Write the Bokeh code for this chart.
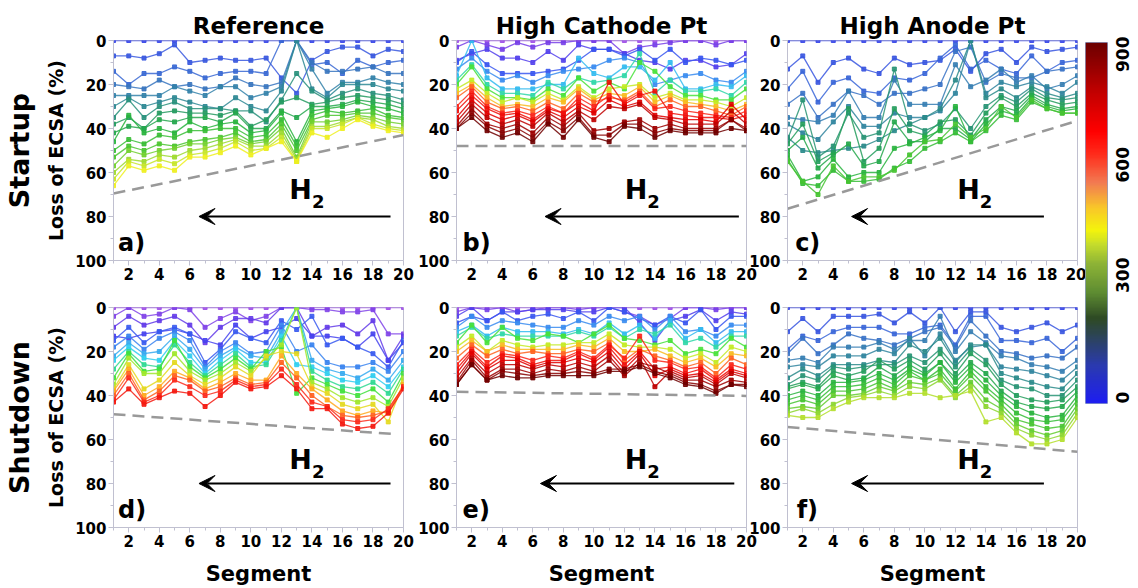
import math
import numpy as np
from bokeh.plotting import figure
from bokeh.layouts import row, column
from bokeh.models import (Range1d, LinearAxis, FixedTicker, Label, Arrow,
                          VeeHead, LinearColorMapper)
from bokeh.embed import file_html
from bokeh.resources import INLINE

FONT = "DejaVu Sans"
AXIS_GREY = "#c0c0d0"

# ---------------------------------------------------------------- data
segments = list(range(1, 21))
x_major = [2, 4, 6, 8, 10, 12, 14, 16, 18, 20]
x_minor = [1, 3, 5, 7, 9, 11, 13, 15, 17, 19]
y_major = [0, 20, 40, 60, 80, 100]
y_minor = [10, 30, 50, 70, 90]
cbar_ticks = [0, 300, 600, 900]

# loss of ECSA (%) per segment, one row per measured cycle (early -> late)
ref_startup = [
    [0, 0, 0, 0, 0, 0, 0, 0, 0, 0, 0, 0, 0, 0, 0, 0, 0, 0, 0, 0],
    [7, 7, 8, 6, 2, 10, 9, 8, 9, 9, 8, 17, 24, 9, 5, 3, 3, 7, 4, 5],
    [14, 20, 15, 15, 12, 14, 17, 15, 14, 14, 15, 0, 0, 11, 10, 15, 9, 12, 10, 9],
    [20, 21, 22, 18, 21, 20, 22, 21, 17, 20, 21, 19, 0, 10, 14, 14, 13, 12, 15, 15],
    [25, 25, 25, 25, 21, 23, 25, 21, 21, 26, 24, 21, 0, 13, 24, 19, 19, 17, 19, 20],
    [30, 26, 30, 28, 26, 28, 30, 31, 26, 30, 32, 23, 0, 22, 26, 20, 20, 20, 22, 23],
    [35, 27, 35, 30, 28, 31, 31, 31, 32, 32, 37, 27, 15, 23, 27, 24, 22, 24, 25, 27],
    [38, 35, 40, 33, 32, 33, 33, 34, 32, 39, 36, 28, 26, 29, 28, 26, 25, 26, 27, 29],
    [42, 39, 40, 36, 37, 35, 35, 37, 33, 40, 40, 32, 35, 30, 30, 29, 27, 28, 29, 31],
    [46, 34, 42, 40, 42, 37, 40, 38, 37, 42, 41, 33, 46, 32, 31, 30, 28, 30, 31, 33],
    [50, 45, 47, 43, 44, 41, 41, 40, 40, 44, 43, 36, 48, 34, 32, 33, 32, 31, 34, 35],
    [53, 48, 50, 47, 48, 46, 45, 44, 42, 46, 45, 38, 50, 36, 34, 34, 33, 33, 35, 36],
    [57, 50, 52, 50, 49, 47, 47, 45, 44, 47, 46, 40, 53, 37, 37, 36, 34, 35, 37, 38],
    [60, 54, 55, 52, 53, 50, 49, 47, 45, 48, 48, 42, 54, 39, 39, 37, 35, 36, 39, 40],
    [63, 55, 57, 54, 56, 52, 51, 49, 46, 50, 49, 44, 55, 40, 40, 38, 35, 38, 40, 41],
    [66, 57, 59, 57, 59, 53, 53, 51, 48, 52, 49, 46, 55, 42, 44, 40, 36, 39, 41, 42],
]

cathode_startup = [
    [0, 0, 0, 0, 0, 0, 0, 0, 0, 0, 0, 0, 0, 0, 0, 0, 0, 0, 0, 0],
    [3, 0, 2, 4, 1, 3, 1, 1, 0, 0, 0, 6, 3, 2, 1, 0, 0, 2, 0, 0],
    [9, 6, 4, 8, 8, 10, 5, 9, 2, 4, 4, 6, 9, 10, 13, 9, 9, 12, 11, 6],
    [10, 5, 11, 15, 15, 15, 14, 13, 9, 4, 4, 7, 4, 9, 4, 10, 8, 9, 11, 9],
    [13, 8, 14, 18, 16, 19, 16, 14, 13, 12, 9, 8, 10, 20, 18, 16, 15, 18, 19, 14],
    [16, 0, 17, 22, 22, 22, 20, 20, 8, 15, 17, 12, 12, 18, 10, 22, 22, 20, 21, 16],
    [18, 11, 20, 24, 24, 25, 19, 22, 17, 19, 18, 16, 6, 24, 18, 23, 23, 22, 25, 19],
    [20, 12, 22, 26, 26, 27, 22, 25, 17, 23, 19, 22, 10, 14, 21, 25, 25, 27, 27, 22],
    [22, 18, 24, 28, 26, 28, 24, 27, 21, 26, 22, 21, 20, 26, 24, 27, 27, 28, 30, 26],
    [24, 20, 26, 30, 29, 30, 26, 28, 22, 27, 24, 25, 21, 28, 25, 28, 29, 30, 32, 29],
    [26, 21, 28, 31, 30, 32, 28, 31, 24, 28, 26, 27, 23, 30, 27, 30, 30, 32, 34, 30],
    [30, 23, 30, 33, 32, 34, 30, 33, 26, 30, 25, 28, 24, 31, 30, 32, 33, 34, 35, 32],
    [32, 25, 31, 34, 33, 36, 31, 33, 28, 32, 19, 29, 25, 23, 33, 34, 35, 35, 36, 34],
    [35, 27, 33, 36, 34, 37, 32, 35, 30, 33, 27, 30, 28, 34, 35, 36, 36, 37, 29, 36],
    [37, 29, 35, 38, 36, 39, 33, 37, 32, 36, 30, 31, 29, 35, 36, 38, 38, 38, 32, 38],
    [39, 31, 38, 40, 38, 42, 35, 39, 33, 41, 40, 37, 36, 40, 38, 40, 40, 40, 36, 40],
    [40, 33, 39, 42, 40, 44, 37, 41, 35, 43, 43, 38, 38, 42, 40, 41, 41, 41, 36, 41],
    [40, 35, 41, 44, 42, 46, 38, 44, 36, 44, 46, 39, 40, 44, 41, 42, 42, 42, 40, 41],
]

anode_startup = [
    [0, 0, 0, 0, 0, 0, 0, 0, 0, 0, 0, 0, 0, 0, 0, 0, 0, 0, 0, 0],
    [13, 7, 19, 10, 8, 13, 15, 8, 11, 10, 9, 4, 14, 6, 4, 10, 3, 5, 4, 3],
    [22, 14, 28, 19, 17, 23, 24, 17, 18, 15, 8, 2, 13, 9, 13, 15, 7, 14, 10, 9],
    [29, 24, 35, 29, 23, 25, 29, 24, 24, 22, 20, 5, 3, 19, 15, 17, 17, 14, 13, 12],
    [35, 36, 37, 34, 23, 35, 35, 18, 29, 29, 29, 11, 21, 18, 13, 19, 16, 22, 20, 16],
    [38, 42, 45, 37, 30, 39, 39, 33, 35, 35, 32, 24, 0, 24, 19, 21, 19, 21, 24, 19],
    [44, 50, 51, 50, 49, 48, 45, 41, 38, 35, 31, 18, 0, 26, 22, 26, 21, 24, 26, 24],
    [45, 27, 53, 48, 33, 44, 42, 13, 38, 41, 38, 31, 40, 30, 25, 28, 22, 26, 27, 26],
    [47, 38, 55, 51, 31, 55, 49, 31, 41, 43, 37, 36, 43, 33, 26, 30, 24, 27, 29, 28],
    [50, 44, 58, 52, 47, 57, 55, 37, 46, 46, 40, 40, 45, 36, 30, 32, 25, 29, 31, 30],
    [52, 64, 62, 54, 62, 60, 60, 49, 47, 44, 41, 30, 46, 38, 32, 34, 26, 30, 32, 31],
    [54, 65, 66, 59, 64, 64, 63, 58, 55, 49, 46, 42, 46, 41, 34, 36, 28, 31, 33, 33],
    [55, 64, 70, 57, 64, 62, 62, 59, 52, 46, 45, 38, 44, 40, 30, 35, 27, 31, 33, 33],
]

ref_shutdown = [
    [0, 0, 0, 0, 0, 0, 0, 0, 0, 0, 0, 0, 0, 0, 0, 0, 0, 0, 0, 0],
    [4, 0, 4, 3, 0, 1, 9, 5, 2, 6, 4, 0, 0, 1, 1, 2, 2, 1, 12, 12],
    [9, 4, 8, 6, 4, 8, 16, 9, 5, 5, 7, 0, 0, 13, 9, 8, 12, 6, 24, 13],
    [13, 14, 12, 11, 10, 12, 15, 17, 8, 14, 11, 9, 5, 13, 13, 14, 18, 12, 24, 16],
    [15, 9, 16, 11, 9, 12, 25, 19, 11, 14, 16, 6, 10, 4, 17, 14, 18, 21, 27, 15],
    [18, 13, 19, 14, 11, 15, 27, 20, 16, 21, 20, 8, 20, 17, 25, 27, 27, 25, 29, 20],
    [22, 16, 21, 20, 13, 19, 28, 22, 18, 22, 23, 11, 0, 24, 28, 30, 32, 28, 33, 24],
    [24, 18, 23, 24, 15, 22, 30, 24, 19, 25, 25, 13, 26, 27, 30, 33, 34, 31, 36, 27],
    [28, 20, 26, 27, 17, 25, 31, 26, 21, 27, 26, 15, 0, 29, 33, 36, 37, 34, 39, 28],
    [32, 21, 29, 28, 15, 27, 32, 28, 23, 28, 20, 18, 39, 32, 35, 38, 40, 37, 43, 30],
    [35, 23, 30, 30, 21, 29, 33, 30, 25, 29, 23, 17, 0, 34, 37, 41, 43, 41, 45, 32],
    [37, 26, 37, 33, 25, 31, 35, 32, 27, 31, 22, 20, 21, 36, 39, 44, 46, 44, 52, 34],
    [38, 28, 40, 36, 29, 32, 37, 34, 30, 33, 33, 22, 30, 37, 42, 47, 49, 47, 48, 35],
    [40, 30, 42, 38, 31, 33, 38, 36, 32, 35, 34, 25, 32, 40, 45, 49, 50, 49, 47, 36],
    [42, 32, 43, 40, 33, 36, 40, 38, 33, 36, 35, 28, 35, 43, 45, 51, 52, 51, 46, 36],
    [43, 37, 44, 41, 38, 39, 45, 40, 34, 37, 36, 31, 37, 46, 46, 53, 55, 54, 48, 37],
]

cathode_shutdown = [
    [0, 0, 0, 0, 0, 0, 0, 0, 0, 0, 0, 0, 0, 0, 0, 0, 0, 0, 0, 0],
    [2, 0, 1, 0, 2, 1, 0, 0, 1, 0, 0, 2, 4, 8, 5, 0, 0, 1, 0, 0],
    [4, 0, 6, 2, 2, 1, 1, 1, 2, 2, 0, 0, 7, 15, 6, 4, 1, 6, 2, 3],
    [7, 4, 6, 2, 6, 4, 3, 5, 2, 6, 0, 2, 5, 8, 4, 7, 1, 10, 4, 4],
    [9, 4, 9, 6, 7, 8, 9, 9, 6, 8, 4, 6, 4, 10, 4, 11, 10, 13, 8, 8],
    [11, 8, 13, 9, 11, 11, 11, 12, 10, 12, 7, 12, 8, 14, 6, 14, 10, 16, 11, 11],
    [13, 9, 14, 12, 13, 13, 13, 13, 11, 13, 9, 14, 10, 12, 8, 16, 14, 18, 13, 13],
    [16, 8, 16, 9, 14, 15, 12, 13, 16, 12, 8, 14, 15, 17, 15, 21, 19, 21, 14, 18],
    [18, 13, 20, 15, 17, 18, 17, 17, 16, 16, 12, 17, 18, 18, 19, 23, 21, 25, 18, 20],
    [20, 15, 20, 17, 19, 19, 19, 19, 17, 18, 14, 20, 20, 19, 22, 25, 23, 27, 21, 22],
    [23, 17, 22, 19, 21, 20, 21, 21, 19, 20, 16, 24, 19, 22, 24, 27, 25, 30, 23, 26],
    [26, 19, 25, 21, 22, 24, 22, 23, 20, 23, 17, 23, 13, 24, 25, 28, 27, 32, 26, 28],
    [28, 20, 27, 22, 23, 26, 24, 24, 21, 24, 18, 26, 20, 28, 27, 30, 28, 33, 28, 30],
    [30, 21, 28, 24, 24, 27, 25, 25, 23, 25, 20, 28, 21, 31, 28, 31, 30, 34, 29, 31],
    [32, 23, 30, 26, 26, 28, 26, 27, 25, 27, 22, 30, 23, 36, 29, 32, 31, 35, 30, 32],
    [34, 24, 32, 28, 28, 30, 28, 29, 27, 29, 24, 31, 25, 27, 30, 33, 33, 36, 33, 34],
    [35, 26, 33, 29, 30, 31, 30, 30, 29, 30, 28, 28, 26, 29, 31, 34, 35, 38, 35, 35],
    [35, 26, 33, 31, 32, 32, 31, 31, 31, 31, 29, 29, 27, 30, 32, 35, 36, 39, 35, 36],
]

anode_shutdown = [
    [0, 0, 0, 0, 0, 0, 0, 0, 0, 0, 0, 0, 0, 0, 0, 0, 0, 0, 0, 0],
    [11, 5, 11, 4, 4, 4, 3, 7, 2, 7, 0, 11, 2, 2, 9, 11, 9, 7, 11, 8],
    [19, 13, 15, 11, 9, 9, 9, 12, 12, 9, 8, 17, 4, 4, 15, 15, 16, 14, 20, 14],
    [21, 14, 21, 17, 12, 14, 15, 17, 14, 11, 9, 18, 6, 13, 20, 21, 23, 22, 23, 18],
    [24, 23, 25, 18, 18, 18, 16, 19, 15, 15, 4, 20, 11, 16, 22, 23, 26, 27, 29, 24],
    [27, 26, 27, 22, 22, 22, 19, 21, 14, 22, 12, 24, 18, 17, 27, 28, 29, 31, 33, 27],
    [32, 28, 31, 26, 26, 26, 24, 25, 17, 20, 14, 25, 17, 17, 30, 32, 34, 36, 37, 30],
    [35, 31, 33, 27, 28, 27, 26, 26, 22, 25, 19, 27, 19, 24, 33, 36, 37, 40, 40, 33],
    [36, 34, 36, 29, 31, 29, 24, 28, 24, 28, 21, 30, 21, 26, 35, 40, 42, 43, 42, 36],
    [37, 35, 37, 31, 33, 32, 27, 31, 26, 30, 25, 32, 25, 30, 38, 43, 45, 46, 45, 38],
    [40, 38, 40, 34, 34, 33, 30, 33, 28, 31, 25, 34, 27, 33, 40, 45, 48, 50, 49, 40],
    [42, 40, 42, 36, 36, 35, 32, 35, 29, 33, 28, 37, 29, 36, 42, 48, 51, 52, 51, 42],
    [44, 42, 44, 38, 38, 37, 34, 37, 31, 33, 30, 38, 31, 38, 44, 51, 53, 55, 54, 44],
    [46, 45, 46, 40, 40, 39, 36, 38, 34, 35, 32, 40, 34, 42, 46, 53, 56, 58, 56, 46],
    [48, 46, 48, 44, 41, 40, 38, 40, 36, 37, 33, 41, 36, 45, 48, 55, 58, 60, 58, 48],
    [49, 50, 50, 46, 43, 41, 41, 41, 39, 39, 41, 40, 38, 52, 50, 57, 62, 62, 60, 50],
]

# dashed guide lines (segment, loss) at the two ends
guide_a = ([1, 20], [69.5, 43])
guide_b = ([1, 20], [48, 48])
guide_c = ([1, 20], [76.5, 36.5])
guide_d = ([1, 19.5], [48.5, 57.6])
guide_e = ([1, 20], [38.3, 40.2])
guide_f = ([1, 20], [54.3, 65.6])

# ---------------------------------------------------------------- colours
BGY = [(0.0, "#3a48e8"), (0.12, "#3a66d8"), (0.25, "#3680b0"), (0.37, "#2a8c88"),
       (0.5, "#24a055"), (0.62, "#2ab83a"), (0.75, "#50c830"), (0.88, "#a8dc30"),
       (1.0, "#eef020")]
RAINBOW = [(0.0, "#a050e8"), (0.08, "#6a3ae8"), (0.16, "#3a48f0"), (0.24, "#3a90f0"),
           (0.32, "#30d0f0"), (0.40, "#30e040"), (0.48, "#d8ec20"), (0.54, "#ffb020"),
           (0.62, "#ff3020"), (0.75, "#e80000"), (0.88, "#a00000"), (1.0, "#700000")]
CBAR = [(0, "#1e1ef0"), (100, "#2a3ab0"), (180, "#2c4458"), (230, "#2e4a24"),
        (300, "#5e8c32"), (380, "#8eb436"), (430, "#c4dc2c"), (470, "#f4f40c"),
        (530, "#f8c828"), (600, "#f27a52"), (680, "#ff2a1a"), (740, "#ff0000"),
        (850, "#c00000"), (980, "#6e0000")]


def _rgb(h):
    return tuple(int(h[i:i + 2], 16) for i in (1, 3, 5))


def blend(anchors, t):
    t = min(max(t, anchors[0][0]), anchors[-1][0])
    for (p0, c0), (p1, c1) in zip(anchors, anchors[1:]):
        if t <= p1:
            f = 0 if p1 == p0 else (t - p0) / (p1 - p0)
            a, b = _rgb(c0), _rgb(c1)
            return "#%02x%02x%02x" % tuple(round(a[k] + (b[k] - a[k]) * f) for k in range(3))
    return anchors[-1][1]


# ---------------------------------------------------------------- panels
def style_axis(ax):
    ax.axis_line_color = AXIS_GREY
    ax.major_tick_line_color = AXIS_GREY
    ax.minor_tick_line_color = AXIS_GREY
    ax.major_tick_in = 0
    ax.major_tick_out = 5
    ax.minor_tick_in = 0
    ax.minor_tick_out = 3
    ax.major_label_text_font = FONT
    ax.major_label_text_font_style = "bold"
    ax.major_label_text_color = "black"
    ax.major_label_standoff = 2
    ax.major_label_text_font_size = "15px"
    ax.axis_label_text_font = FONT
    ax.axis_label_text_font_style = "bold"
    ax.axis_label_text_color = "black"


def text_label(x, y, text, size, align):
    return Label(x=x, y=y, text=text, text_align=align, text_baseline="middle",
                 text_font=FONT, text_font_style="bold", text_font_size=size,
                 text_color="black")


def panel(series, anchors, top_frac, letter, letter_x, guide, arrow_x, h_x,
          top, width, left, right, shift, title=None, row_label=None):
    height = 284 if top else 304
    p = figure(width=width, height=height, x_range=Range1d(1, 20),
               y_range=Range1d(100, 0), toolbar_location=None,
               output_backend="svg", title=title,
               min_border_left=left, min_border_right=right,
               min_border_top=40 if top else 23,
               min_border_bottom=24 if top else 61,
               border_fill_color=None, background_fill_color=None,
               outline_line_color=AXIS_GREY, margin=(0, 0, 0, shift))
    p.grid.visible = False
    xax = p.xaxis[0]
    yax = p.yaxis[0]
    xax.ticker = FixedTicker(ticks=x_major, minor_ticks=x_minor)
    yax.ticker = FixedTicker(ticks=y_major, minor_ticks=y_minor)
    style_axis(xax)
    style_axis(yax)

    if title:
        p.title.align = "center"
        p.title.text_font = FONT
        p.title.text_font_style = "bold"
        p.title.text_font_size = "23px"
        p.title.text_color = "black"
        p.title.standoff = 4
    if not top:
        xax.axis_label = "Segment"
        xax.axis_label_text_font_size = "21px"
        xax.axis_label_standoff = 12
    if row_label:
        yax.axis_label = "Loss of ECSA (%)"
        yax.axis_label_text_font_size = "19px"
        yax.axis_label_standoff = 5
        outer = LinearAxis(ticker=FixedTicker(ticks=[]), axis_label=row_label,
                           axis_line_color=None, major_tick_line_color=None,
                           minor_tick_line_color=None, major_tick_out=0,
                           major_label_standoff=0,
                           axis_label_text_font=FONT,
                           axis_label_text_font_style="bold",
                           axis_label_text_color="black",
                           axis_label_text_font_size="27px",
                           axis_label_standoff=8)
        p.add_layout(outer, "left")

    n = len(series)
    for i, vals in enumerate(series):
        c = blend(anchors, top_frac * i / (n - 1))
        p.line(segments, vals, line_color=c, line_width=1.3, line_alpha=0.85)
        p.scatter(segments, vals, marker="square", size=4, color=c, alpha=0.9)

    p.line(guide[0], guide[1], line_color="#999999", line_width=2.5,
           line_dash="12 7")
    p.add_layout(Arrow(end=VeeHead(size=16, fill_color="black",
                                   line_color="black"),
                       x_start=arrow_x[0], y_start=80, x_end=arrow_x[1],
                       y_end=80, line_color="black", line_width=2))
    hy = 67.5 if top else 69
    p.add_layout(text_label(h_x, hy, "H", "27px", "right"))
    p.add_layout(text_label(h_x, hy + 5.5, "2", "18px", "left"))
    p.add_layout(text_label(letter_x, 92, letter, "24px", "left"))
    return p


pa = panel(ref_startup, BGY, 1.0, "a)", 1.3, guide_a, (19.15, 6.6), 14.0,
           True, 420, 113, 17, 0, title="Reference", row_label="Startup")
pb = panel(cathode_startup, RAINBOW, 1.0, "b)", 1.4, guide_b, (19.5, 6.8), 13.5,
           True, 350, 48, 12, -12, title="High Cathode Pt")
pc = panel(anode_startup, BGY, 0.72, "c)", 1.5, guide_c, (17.8, 5.2), 13.6,
           True, 340, 41, 9, -12, title="High Anode Pt")
pd = panel(ref_shutdown, RAINBOW, 0.68, "d)", 1.3, guide_d, (19.15, 6.6), 14.0,
           False, 420, 113, 17, 0, row_label="Shutdown")
pe = panel(cathode_shutdown, RAINBOW, 1.0, "e)", 1.4, guide_e, (19.2, 6.5), 13.5,
           False, 350, 48, 12, -12)
pf = panel(anode_shutdown, BGY, 0.9, "f)", 1.6, guide_f, (17.8, 5.2), 13.6,
           False, 340, 41, 9, -12)

# ---------------------------------------------------------------- colour bar
cb_top = 980
cbar_palette = [blend(CBAR, cb_top * k / 255) for k in range(256)]
cb = figure(width=56, height=588, x_range=Range1d(0, 1),
            y_range=Range1d(0, cb_top), toolbar_location=None,
            output_backend="svg", y_axis_location="right",
            min_border_left=3, min_border_right=26, min_border_top=42,
            min_border_bottom=185, border_fill_color=None,
            outline_line_color="#8fa0c8", margin=(0, 0, 0, -4))
cb.xaxis.visible = False
cb.grid.visible = False
grad = np.linspace(0, cb_top, 400).reshape(-1, 1)
cb.image(image=[grad], x=0, y=0, dw=1, dh=cb_top,
         color_mapper=LinearColorMapper(palette=cbar_palette, low=0, high=cb_top))
cb.yaxis.ticker = FixedTicker(ticks=cbar_ticks)
cb.yaxis.axis_line_color = None
cb.yaxis.major_tick_line_color = None
cb.yaxis.minor_tick_line_color = None
cb.yaxis.major_label_orientation = math.pi / 2
cb.yaxis.major_label_text_font = FONT
cb.yaxis.major_label_text_font_style = "bold"
cb.yaxis.major_label_text_font_size = "17px"
cb.yaxis.major_label_text_color = "black"
cb.yaxis.major_label_standoff = 9

page = row(column(row(pa, pb, pc), row(pd, pe, pf)), cb)
open("out.html", "w").write(file_html(page, INLINE))
